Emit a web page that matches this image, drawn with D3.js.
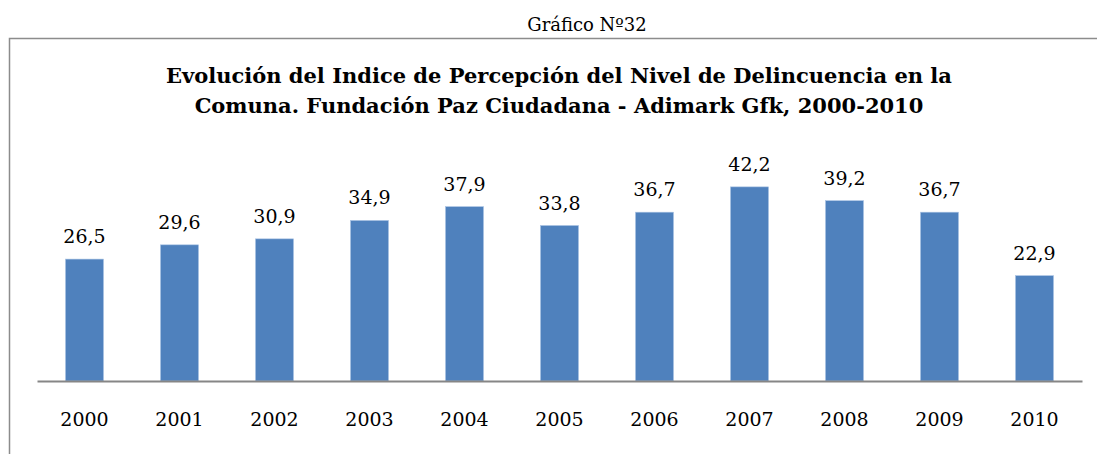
<!DOCTYPE html>
<html>
<head>
<meta charset="utf-8">
<script src="https://cdn.jsdelivr.net/npm/d3@7"></script>
<style>
  body { margin: 0; background: #fff; }
  svg { display: block; }
  text { font-family: "DejaVu Serif", "Liberation Serif", serif; }
</style>
</head>
<body>
<div id="chart"></div>
<script>
// chart data
const years = ['2000', '2001', '2002', '2003', '2004', '2005', '2006', '2007', '2008', '2009', '2010'];
const values = [26.5, 29.6, 30.9, 34.9, 37.9, 33.8, 36.7, 42.2, 39.2, 36.7, 22.9];
const titleLines = [
    'Evolución del Indice de Percepción del Nivel de Delincuencia en la',
    'Comuna. Fundación Paz Ciudadana - Adimark Gfk, 2000-2010'
];
const caption = 'Gráfico Nº32';

const width = 1097, height = 454;
const margin = { left: 37, right: 15, top: 174, bottom: 73 };

const svg = d3.select('#chart').append('svg')
    .attr('width', width)
    .attr('height', height);

// caption above the frame
svg.append('text')
    .attr('x', 587)
    .attr('y', 31)
    .attr('text-anchor', 'middle')
    .style('font-size', '18px')
    .attr('fill', '#000')
    .text(caption);

// frame (top + left edge only visible)
svg.append('path')
    .attr('d', `M9.5,${height} V38.5 H${width}`)
    .attr('fill', 'none')
    .attr('stroke', '#8c8c8c')
    .attr('stroke-width', 1.5);

// title
svg.append('text')
    .attr('text-anchor', 'middle')
    .style('font-size', '21px')
    .style('font-weight', 'bold')
    .selectAll('tspan')
    .data(titleLines)
    .join('tspan')
    .attr('x', 559)
    .attr('y', (d, i) => 83 + i * 30)
    .text(d => d);

const x = d3.scaleBand()
    .domain(years)
    .range([margin.left, width - margin.right])
    .paddingInner(0.6)
    .paddingOuter(0.3);

const y = d3.scaleLinear()
    .domain([0, 45])
    .range([height - margin.bottom, margin.top]);

const fmt = v => d3.format('.1f')(v).replace('.', ',');

svg.selectAll('.bar')
    .data(values)
    .join('rect')
    .attr('class', 'bar')
    .attr('x', (d, i) => x(years[i]))
    .attr('y', d => y(d))
    .attr('width', x.bandwidth())
    .attr('height', d => y(0) - y(d))
    .attr('fill', '#4f81bd')
    .attr('stroke', '#a9c2e3')
    .attr('stroke-width', 0.6);

svg.selectAll('.label')
    .data(values)
    .join('text')
    .attr('class', 'label')
    .attr('x', (d, i) => x(years[i]) + x.bandwidth() / 2)
    .attr('y', d => y(d) - 16)
    .attr('text-anchor', 'middle')
    .style('font-size', '19px')
    .text(d => fmt(d));

const xAxis = d3.axisBottom(x).tickSize(0).tickPadding(32).tickSizeOuter(0);

svg.append('g')
    .attr('transform', `translate(0,${y(0)})`)
    .call(xAxis)
    .call(g => g.select('.domain').attr('stroke', '#868686').attr('stroke-width', 2))
    .call(g => g.selectAll('text')
        .style('font-family', '"DejaVu Serif", serif')
        .style('font-size', '19px')
        .attr('fill', '#000'));
</script>
</body>
</html>
